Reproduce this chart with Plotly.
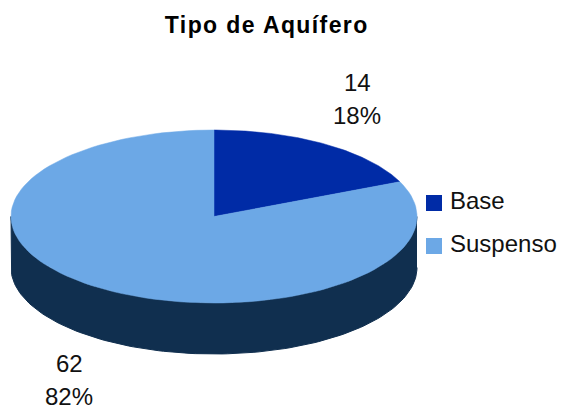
import numpy as np
import plotly.graph_objects as go

labels = ["Base", "Suspenso"]
values = [14, 62]
percents = ["18%", "82%"]
colors = ["#002BA6", "#6CA8E6"]
side_color = "#102F4F"

# ellipse of the pie top, in pixels of the 561x408 page
cx, cy, rx, ry = 214, 216.5, 203, 86.5
depth = 51
font = dict(family="Liberation Sans", size=24, color="#111111")


def arc(a0, a1, n=120):
    t = np.radians(np.linspace(a0, a1, n))
    return cx + rx * np.sin(t), cy - ry * np.cos(t)


fig = go.Figure()

# side wall: lower half of the ellipse pushed down by the depth
xs, ys = arc(90, 270)
fig.add_trace(go.Scatter(x=np.r_[xs, xs[::-1]], y=np.r_[ys, ys[::-1] + depth],
                         fill="toself", fillcolor=side_color, mode="lines",
                         line=dict(color=side_color, width=1),
                         hoverinfo="skip", showlegend=False))

# top slices, clockwise from 12 o'clock
total = sum(values)
start = 0
for label, value, color in zip(labels, values, colors):
    end = start + 360 * value / total
    xs, ys = arc(start, end)
    fig.add_trace(go.Scatter(x=np.r_[cx, xs, cx], y=np.r_[cy, ys, cy],
                             fill="toself", fillcolor=color, mode="lines",
                             line=dict(color=color, width=0.5),
                             name=label, showlegend=False))
    start = end

annotations = []
# slice labels, value above percent
for value, pct, x, y in zip(values, percents, [357, 69], [82, 363]):
    annotations.append(dict(x=x, y=y, text=str(value), xref="x", yref="y",
                            showarrow=False, font=font))
    annotations.append(dict(x=x, y=y + 33.5, text=pct, xref="x", yref="y",
                            showarrow=False, font=font))

# legend
for name, color, y in zip(labels, colors, [203, 246]):
    fig.add_shape(type="rect", x0=426, x1=442, y0=y - 8, y1=y + 8,
                  fillcolor=color, line_width=0)
    annotations.append(dict(x=448, y=y - 3, text=name, xref="x", yref="y",
                            xanchor="left", showarrow=False, font=font))

annotations.append(dict(x=266.5, y=25, text="<b>Tipo de Aquífero</b>", xref="x", yref="y",
                        showarrow=False,
                        font=dict(family="Liberation Sans", size=23, color="black")))

fig.update_layout(width=561, height=408, margin=dict(l=0, r=0, t=0, b=0),
                  paper_bgcolor="white", plot_bgcolor="white",
                  annotations=annotations,
                  xaxis=dict(range=[0, 561], visible=False, fixedrange=True),
                  yaxis=dict(range=[408, 0], visible=False, fixedrange=True))

# title is letter-spaced in the original, plotly has no option for that
post = """
document.body.style.margin = '0';
var notes = document.querySelectorAll('.annotation-text');
notes[notes.length - 1].style.letterSpacing = '1.4px';
"""
fig.write_html("out.html", config=dict(displayModeBar=False), post_script=post)
